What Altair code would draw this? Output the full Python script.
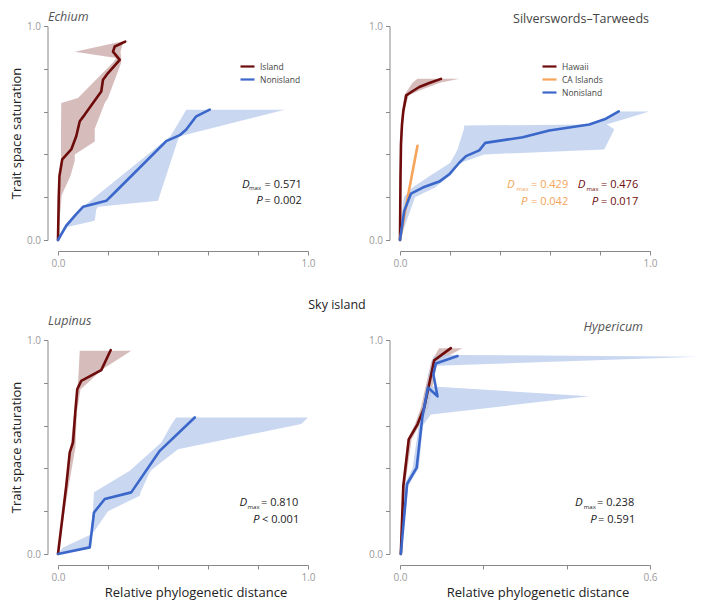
import altair as alt
import pandas as pd

FONT = "Open Sans"
RED = "#6e0b0b"
BLUE = "#3a67c9"
ORANGE = "#f5a45a"
RED_BAND = "#c9a6a6"
BLUE_BAND = "#bccdee"

# ---------------- Echium ----------------
ech_island_x = [0, 0.003, 0.006, 0.017, 0.053, 0.073, 0.087, 0.107, 0.173, 0.18, 0.2, 0.247, 0.22, 0.227, 0.269]
ech_island_y = [0, 0.2, 0.3, 0.377, 0.423, 0.485, 0.555, 0.586, 0.694, 0.749, 0.78, 0.842, 0.88, 0.904, 0.927]
ech_non_x = [0, 0.033, 0.073, 0.1, 0.193, 0.227, 0.433, 0.487, 0.513, 0.553, 0.607]
ech_non_y = [0, 0.067, 0.121, 0.155, 0.183, 0.222, 0.462, 0.49, 0.516, 0.578, 0.609]
ech_island_band_y = [0, 0.21, 0.30, 0.37, 0.40, 0.46, 0.52, 0.64, 0.664, 0.83, 0.85, 0.88, 0.92, 0.93]
ech_island_band_lo = [0, 0.004, 0.012, 0.012, 0.012, 0.012, 0.012, 0.013, 0.08, 0.22, 0.233, 0.067, 0.227, 0.265]
ech_island_band_hi = [0, 0.015, 0.05, 0.067, 0.067, 0.147, 0.147, 0.187, 0.20, 0.253, 0.253, 0.25, 0.26, 0.27]
ech_non_band_y = [0, 0.062, 0.09, 0.144, 0.155, 0.183, 0.47, 0.485, 0.609]
ech_non_band_lo = [0, 0.03, 0.05, 0.09, 0.1, 0.13, 0.433, 0.45, 0.513]
ech_non_band_hi = [0, 0.04, 0.147, 0.153, 0.16, 0.4, 0.48, 0.487, 0.907]

# ---------------- Silverswords–Tarweeds ----------------
sil_haw_x = [0, 0.001, 0.002, 0.004, 0.008, 0.013, 0.025, 0.05, 0.077, 0.12, 0.164]
sil_haw_y = [0, 0.15, 0.3, 0.45, 0.54, 0.6, 0.676, 0.695, 0.715, 0.735, 0.753]
sil_ca_x = [0, 0.034, 0.07]
sil_ca_y = [0, 0.22, 0.44]
sil_non_x = [0, 0.017, 0.044, 0.091, 0.157, 0.197, 0.237, 0.264, 0.317, 0.341, 0.491, 0.597, 0.757, 0.824, 0.875]
sil_non_y = [0, 0.136, 0.217, 0.245, 0.273, 0.307, 0.361, 0.392, 0.419, 0.454, 0.48, 0.512, 0.54, 0.567, 0.601]
sil_haw_band_y = [0, 0.5, 0.62, 0.676, 0.70, 0.735, 0.753]
sil_haw_band_lo = [0, 0.002, 0.01, 0.018, 0.03, 0.05, 0.07]
sil_haw_band_hi = [0, 0.006, 0.02, 0.035, 0.08, 0.16, 0.237]
sil_non_band_y = [0, 0.1, 0.2, 0.245, 0.3, 0.36, 0.40, 0.423, 0.516, 0.535, 0.54, 0.601]
sil_non_band_lo = [0, 0.005, 0.015, 0.05, 0.12, 0.2, 0.22, 0.23, 0.255, 0.257, 0.757, 0.875]
sil_non_band_hi = [0, 0.03, 0.06, 0.14, 0.2, 0.24, 0.337, 0.817, 0.857, 0.835, 0.826, 0.997]

# ---------------- Lupinus ----------------
lup_island_x = [0, 0.033, 0.047, 0.06, 0.069, 0.077, 0.093, 0.173, 0.211]
lup_island_y = [0, 0.318, 0.475, 0.521, 0.661, 0.77, 0.809, 0.859, 0.953]
lup_non_x = [0, 0.127, 0.144, 0.187, 0.293, 0.407, 0.547]
lup_non_y = [0, 0.031, 0.194, 0.257, 0.288, 0.482, 0.638]
lup_island_band_y = [0, 0.3, 0.5, 0.66, 0.77, 0.8, 0.86, 0.95]
lup_island_band_lo = [0, 0.028, 0.05, 0.065, 0.075, 0.08, 0.083, 0.087]
lup_island_band_hi = [0, 0.04, 0.07, 0.075, 0.09, 0.12, 0.173, 0.293]
lup_non_band_y = [0, 0.03, 0.09, 0.2, 0.272, 0.288, 0.389, 0.49, 0.521, 0.607, 0.638]
lup_non_band_lo = [0, 0.02, 0.13, 0.14, 0.143, 0.144, 0.287, 0.383, 0.413, 0.455, 0.473]
lup_non_band_hi = [0, 0.127, 0.135, 0.2, 0.327, 0.33, 0.37, 0.48, 0.61, 0.973, 1.0]

# ---------------- Hypericum ----------------
hyp_island_x = [0.002, 0.008, 0.021, 0.042, 0.058, 0.082, 0.122]
hyp_island_y = [0, 0.319, 0.536, 0.606, 0.683, 0.905, 0.962]
hyp_non_x = [0.002, 0.017, 0.04, 0.054, 0.067, 0.09, 0.08, 0.086, 0.138]
hyp_non_y = [0, 0.327, 0.404, 0.644, 0.778, 0.737, 0.84, 0.89, 0.925]
hyp_island_band_y = [0, 0.32, 0.536, 0.606, 0.683, 0.9, 0.962]
hyp_island_band_lo = [0.002, 0.006, 0.018, 0.036, 0.05, 0.075, 0.094]
hyp_island_band_hi = [0.003, 0.012, 0.028, 0.048, 0.068, 0.09, 0.15]
hyp_non_band_y = [0, 0.32, 0.40, 0.6, 0.652, 0.737, 0.784, 0.85, 0.88, 0.922, 0.93]
hyp_non_band_lo = [0.002, 0.01, 0.03, 0.045, 0.05, 0.06, 0.065, 0.07, 0.075, 0.08, 0.1]
hyp_non_band_hi = [0.003, 0.02, 0.045, 0.055, 0.074, 0.454, 0.07, 0.075, 0.09, 0.715, 0.14]

W, H = 250, 214
LABEL_EXPR = "(datum.index == 0 || datum.index == 1) ? datum.label : ''"


def line_df(series):
    rows = []
    for name, xs, ys in series:
        for i, (x, y) in enumerate(zip(xs, ys)):
            rows.append({"series": name, "x": x, "y": y, "i": i})
    return pd.DataFrame(rows)


def band_df(ys, lo, hi):
    return pd.DataFrame({"y": ys, "lo": lo, "hi": hi})


def txt(text, x, y, size=11, color="#222", align="left", style="normal"):
    return alt.Chart(pd.DataFrame({"t": [text]})).mark_text(
        align=align, baseline="alphabetic", fontSize=size, color=color,
        font=FONT, fontStyle=style, fontWeight="normal",
    ).encode(x=alt.value(x), y=alt.value(y), text="t:N")


def stat(xd, xm, xe, y, value, color, xp, xpe, pval):
    return [
        txt("D", xd, y, 11.5, color, style="italic"),
        txt("max", xm, y + 2.5, 6, color),
        txt("= " + value, xe, y, 11, color),
        txt("P", xp, y + 16.5, 11.5, color, style="italic"),
        txt(pval, xpe, y + 16.5, 11, color),
    ]


def panel(lines, bands, domain, rng, xmax, xticks, legend, ytitle, xtitle, extras):
    xs = alt.Scale(domain=[0, xmax], nice=False, zero=False)
    ys = alt.Scale(domain=[0, 1], nice=False, zero=False)
    xax = alt.Axis(values=xticks, format=".1f", labelExpr=LABEL_EXPR, offset=11,
                   grid=False, tickSize=4, tickColor="#888", domainColor="#888",
                   labelColor="#9a9a9a", labelFontSize=10, labelFont=FONT, labelPadding=3,
                   labelFlush=False,
                   titleFont=FONT, titleFontSize=13, titleFontWeight="normal",
                   titleColor="#222", titlePadding=4, titleX=137.5)
    yax = alt.Axis(values=[0, 0.2, 0.4, 0.6, 0.8, 1.0], format=".1f", labelExpr=LABEL_EXPR,
                   offset=10.5, grid=False, tickSize=4, tickColor="#888", domainColor="#888",
                   labelColor="#9a9a9a", labelFontSize=10, labelFont=FONT, labelPadding=3,
                   labelFlush=False,
                   titleFont=FONT, titleFontSize=13, titleFontWeight="normal",
                   titleColor="#222", titlePadding=3)
    xenc_kw = {"title": xtitle} if xtitle else {"title": None}
    yenc_kw = {"title": ytitle} if ytitle else {"title": None}
    layers = []
    for df, col, op in bands:
        layers.append(
            alt.Chart(df).mark_area(orient="horizontal", fill=col, fillOpacity=op).encode(
                y=alt.Y("y:Q", scale=ys, axis=yax, **yenc_kw),
                x=alt.X("lo:Q", scale=xs, axis=xax, **xenc_kw),
                x2=alt.X2("hi:Q"),
            )
        )
    layers.append(
        alt.Chart(lines).mark_line(strokeWidth=2.6, strokeJoin="round", strokeCap="round").encode(
            x=alt.X("x:Q", scale=xs, axis=xax, **xenc_kw),
            y=alt.Y("y:Q", scale=ys, axis=yax, **yenc_kw),
            color=alt.Color("series:N", scale=alt.Scale(domain=domain, range=rng), legend=legend),
            order="i:Q",
        )
    )
    layers += extras
    return alt.layer(*layers).properties(width=W, height=H)


def make_legend(x, y):
    return alt.Legend(title=None, orient="none", legendX=x, legendY=y, symbolType="stroke",
                      symbolSize=196, symbolStrokeWidth=2.2, labelFontSize=8.5, labelFont=FONT,
                      labelColor="#444", rowPadding=-5, labelOffset=4, padding=0)


# Panels
tl = panel(
    line_df([("Island", ech_island_x, ech_island_y), ("Nonisland", ech_non_x, ech_non_y)]),
    [(band_df(ech_island_band_y, ech_island_band_lo, ech_island_band_hi), RED_BAND, 0.75),
     (band_df(ech_non_band_y, ech_non_band_lo, ech_non_band_hi), BLUE_BAND, 0.8)],
    ["Island", "Nonisland"], [RED, BLUE], 1.0, [0, 0.2, 0.4, 0.6, 0.8, 1.0],
    make_legend(181, 32), "Trait space saturation", None,
    [txt("Echium", -10, -5, 12.5, "#555", style="italic")]
    + stat(184, 191, 206.6, 161.5, "0.571", "#222", 198.3, 206.6, "= 0.002"),
)

tr = panel(
    line_df([("Hawaii", sil_haw_x, sil_haw_y), ("CA Islands", sil_ca_x, sil_ca_y),
             ("Nonisland", sil_non_x, sil_non_y)]),
    [(band_df(sil_haw_band_y, sil_haw_band_lo, sil_haw_band_hi), RED_BAND, 0.75),
     (band_df(sil_non_band_y, sil_non_band_lo, sil_non_band_hi), BLUE_BAND, 0.8)],
    ["Hawaii", "CA Islands", "Nonisland"], [RED, ORANGE, BLUE], 1.0, [0, 0.2, 0.4, 0.6, 0.8, 1.0],
    make_legend(141, 32), None, None,
    [txt("Silverswords\u2013Tarweeds", 249, -3, 12.5, "#444", align="right")]
    + stat(107, 116.5, 131, 162, "0.429", ORANGE, 121, 131, "= 0.042")
    + stat(177.7, 186.5, 201, 162, "0.476", RED, 191.7, 201, "= 0.017"),
)

bl = panel(
    line_df([("Island", lup_island_x, lup_island_y), ("Nonisland", lup_non_x, lup_non_y)]),
    [(band_df(lup_island_band_y, lup_island_band_lo, lup_island_band_hi), RED_BAND, 0.75),
     (band_df(lup_non_band_y, lup_non_band_lo, lup_non_band_hi), BLUE_BAND, 0.8)],
    ["Island", "Nonisland"], [RED, BLUE], 1.0, [0, 0.2, 0.4, 0.6, 0.8, 1.0],
    None, "Trait space saturation", "Relative phylogenetic distance",
    [txt("Lupinus", -10, -15, 12.5, "#555", style="italic"),
     txt("Sky island", 279, -31, 12.5, "#222", align="center")]
    + stat(181.6, 189.5, 203, 166, "0.810", "#222", 195, 204, "< 0.001"),
)

br = panel(
    line_df([("Island", hyp_island_x, hyp_island_y), ("Nonisland", hyp_non_x, hyp_non_y)]),
    [(band_df(hyp_island_band_y, hyp_island_band_lo, hyp_island_band_hi), RED_BAND, 0.75),
     (band_df(hyp_non_band_y, hyp_non_band_lo, hyp_non_band_hi), BLUE_BAND, 0.8)],
    ["Island", "Nonisland"], [RED, BLUE], 0.6, [0, 0.2, 0.4, 0.6],
    None, None, "Relative phylogenetic distance",
    [txt("Hypericum", 243, -9, 12.5, "#555", align="right", style="italic")]
    + stat(175, 183.8, 197, 166, "0.238", "#222", 190.3, 198, "= 0.591"),
)

chart = alt.concat(
    tl, tr, bl, br, columns=2, bounds="flush",
    spacing=alt.RowColnumber(row=100, column=92),
).resolve_scale(
    color="independent", x="independent", y="independent"
).properties(
    padding={"left": 2, "top": 3, "right": 0, "bottom": 2}, background="white"
).configure(font=FONT).configure_view(stroke=None)

chart.save("out.html", embed_options={"renderer": "svg", "actions": False})
